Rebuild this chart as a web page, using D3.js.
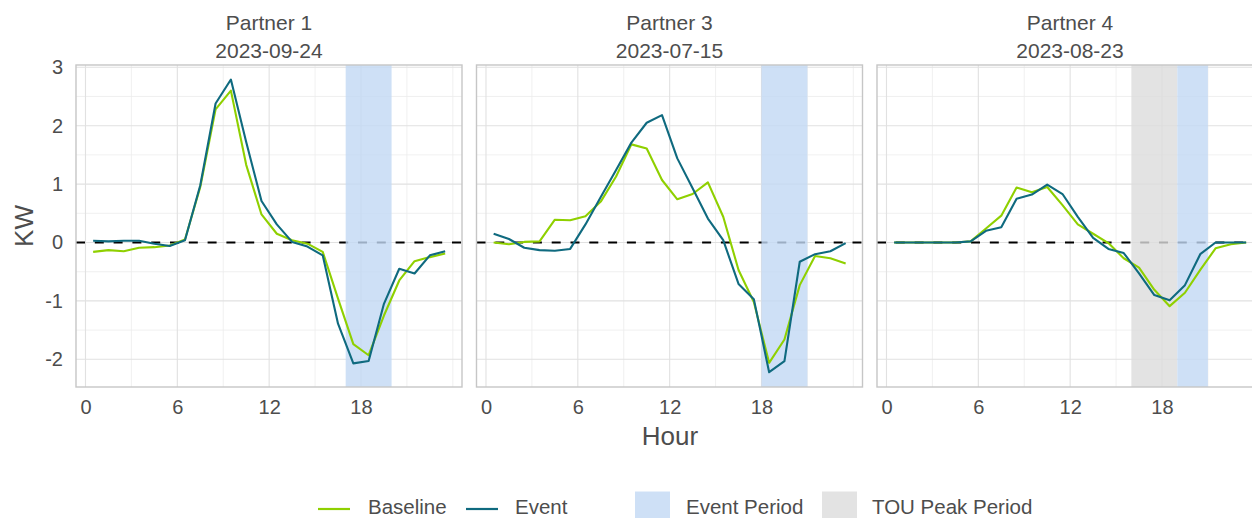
<!DOCTYPE html>
<html>
<head>
<meta charset="utf-8">
<script src="https://cdn.jsdelivr.net/npm/d3@7"></script>
<style>
  html, body { margin: 0; padding: 0; background: #ffffff; }
  svg { display: block; font-family: "Liberation Sans", Arial, sans-serif; }
</style>
</head>
<body>
<svg id="chart" width="1252" height="518"></svg>
<script>
// ---------------- data ----------------
const hours = [0.5, 1.5, 2.5, 3.5, 4.5, 5.5, 6.5, 7.5, 8.5, 9.5, 10.5, 11.5,
               12.5, 13.5, 14.5, 15.5, 16.5, 17.5, 18.5, 19.5, 20.5, 21.5, 22.5, 23.5];

const panelPartners = ["Partner 1", "Partner 3", "Partner 4"];
const panelDates = ["2023-09-24", "2023-07-15", "2023-08-23"];

const baselineP1 = [-0.16, -0.13, -0.15, -0.09, -0.08, -0.05, 0.05, 0.95, 2.28, 2.6, 1.33, 0.48,
                    0.15, 0.04, -0.02, -0.16, -0.96, -1.74, -1.93, -1.25, -0.65, -0.32, -0.25, -0.19];
const eventP1 = [0.03, 0.02, 0.03, 0.03, -0.02, -0.06, 0.04, 0.98, 2.38, 2.79, 1.72, 0.71,
                 0.31, 0.01, -0.07, -0.22, -1.39, -2.07, -2.03, -1.05, -0.45, -0.53, -0.22, -0.15];

const baselineP3 = [0.0, -0.03, 0.01, 0.02, 0.39, 0.38, 0.45, 0.70, 1.13, 1.68, 1.61, 1.07,
                    0.74, 0.83, 1.03, 0.44, -0.47, -1.02, -2.06, -1.66, -0.73, -0.23, -0.27, -0.36];
const eventP3 = [0.15, 0.06, -0.09, -0.13, -0.14, -0.11, 0.31, 0.78, 1.24, 1.71, 2.05, 2.18,
                 1.44, 0.93, 0.41, 0.04, -0.71, -0.97, -2.22, -2.03, -0.33, -0.2, -0.15, -0.01];

const baselineP4 = [0.0, 0.0, 0.0, 0.0, 0.0, 0.02, 0.24, 0.46, 0.94, 0.86, 0.95, 0.64,
                    0.31, 0.15, -0.01, -0.27, -0.43, -0.81, -1.09, -0.86, -0.47, -0.1, -0.03, 0.0];
const eventP4 = [0.0, 0.0, 0.0, 0.0, 0.0, 0.02, 0.2, 0.26, 0.75, 0.82, 0.99, 0.83,
                 0.44, 0.08, -0.11, -0.18, -0.53, -0.9, -0.99, -0.73, -0.2, 0.0, 0.0, 0.0];

const baselineSeries = [baselineP1, baselineP3, baselineP4];
const eventSeries = [eventP1, eventP3, eventP4];

const eventPeriods = [[17, 20], [18, 21], [19, 21]];
const touPeriods = [null, null, [16, 19]];

const xTicks = [0, 6, 12, 18];
const xMinor = [3, 9, 15, 21, 24];
const yTicks = [-2, -1, 0, 1, 2, 3];
const yMinor = [-1.5, -0.5, 0.5, 1.5, 2.5];

const legendLines = ["Baseline", "Event"];
const legendFills = ["Event Period", "TOU Peak Period"];

// ---------------- style ----------------
const colBaseline = "#8fd000";
const colEvent = "#0f6a7f";
const colEventFill = "#c2d8f4";
const colTouFill = "#dcdcdc";
const fillAlpha = 0.8;
const textCol = "#4d4d4d";

const panelW = 386, panelH = 322;
const panelLefts = [76, 476.5, 877];
const panelTop = 65;

const svg = d3.select("#chart");

const x = d3.scaleLinear().domain([-0.62, 24.6]).range([0, panelW]);
const y = d3.scaleLinear().domain([-2.474, 3.039]).range([panelH, 0]);

panelPartners.forEach((name, i) => {
  const g = svg.append("g").attr("transform", `translate(${panelLefts[i]},${panelTop})`);

  // minor grid
  g.selectAll(".xminor").data(xMinor).join("line")
    .attr("x1", d => x(d)).attr("x2", d => x(d)).attr("y1", 0).attr("y2", panelH)
    .attr("stroke", "#ececec").attr("stroke-width", 0.8);
  g.selectAll(".yminor").data(yMinor).join("line")
    .attr("x1", 0).attr("x2", panelW).attr("y1", d => y(d)).attr("y2", d => y(d))
    .attr("stroke", "#ececec").attr("stroke-width", 0.8);
  // major grid
  g.selectAll(".xmajor").data(xTicks).join("line")
    .attr("x1", d => x(d)).attr("x2", d => x(d)).attr("y1", 0).attr("y2", panelH)
    .attr("stroke", "#e1e1e1").attr("stroke-width", 1.1);
  g.selectAll(".ymajor").data(yTicks).join("line")
    .attr("x1", 0).attr("x2", panelW).attr("y1", d => y(d)).attr("y2", d => y(d))
    .attr("stroke", "#e1e1e1").attr("stroke-width", 1.1);

  // zero dashed line
  g.append("line")
    .attr("x1", 0).attr("x2", panelW).attr("y1", y(0)).attr("y2", y(0))
    .attr("stroke", "#000").attr("stroke-width", 2.2)
    .attr("stroke-dasharray", "9,9.8");

  // shaded periods
  if (touPeriods[i]) {
    const t = touPeriods[i];
    g.append("rect").attr("x", x(t[0])).attr("width", x(t[1]) - x(t[0]))
      .attr("y", 0).attr("height", panelH)
      .attr("fill", colTouFill).attr("fill-opacity", fillAlpha);
  }
  const e = eventPeriods[i];
  g.append("rect").attr("x", x(e[0])).attr("width", x(e[1]) - x(e[0]))
    .attr("y", 0).attr("height", panelH)
    .attr("fill", colEventFill).attr("fill-opacity", fillAlpha);

  // lines
  const line = d3.line().x((d, k) => x(hours[k])).y(d => y(d));
  g.append("path").datum(baselineSeries[i]).attr("d", line)
    .attr("fill", "none").attr("stroke", colBaseline).attr("stroke-width", 2.1)
    .attr("stroke-linejoin", "round");
  g.append("path").datum(eventSeries[i]).attr("d", line)
    .attr("fill", "none").attr("stroke", colEvent).attr("stroke-width", 2.1)
    .attr("stroke-linejoin", "round");

  // border
  g.append("rect").attr("x", 0).attr("y", 0).attr("width", panelW).attr("height", panelH)
    .attr("fill", "none").attr("stroke", "#c6c6c6").attr("stroke-width", 1.4);

  // x axis
  const xa = g.append("g").attr("transform", `translate(0,${panelH})`)
    .call(d3.axisBottom(x).tickValues(xTicks).tickSize(0).tickPadding(13));
  xa.select(".domain").remove();
  xa.selectAll("text").attr("fill", textCol).style("font-size", "20px")
    .style("font-family", "'Liberation Sans', Arial, sans-serif");

  // y axis on first panel
  if (i === 0) {
    const ya = g.append("g")
      .call(d3.axisLeft(y).tickValues(yTicks).tickFormat(d3.format("d")).tickSize(0).tickPadding(13));
    ya.select(".domain").remove();
    ya.selectAll("text").attr("fill", textCol).style("font-size", "20px")
      .style("font-family", "'Liberation Sans', Arial, sans-serif")
      .text(d => String(d));
  }

  // strip titles
  g.append("text").attr("x", panelW / 2).attr("y", 30 - panelTop)
    .attr("text-anchor", "middle").attr("fill", textCol).style("font-size", "21px")
    .text(name);
  g.append("text").attr("x", panelW / 2).attr("y", 57.5 - panelTop)
    .attr("text-anchor", "middle").attr("fill", textCol).style("font-size", "21px")
    .text(panelDates[i]);
});

// axis titles
svg.append("text").attr("x", 670).attr("y", 445).attr("text-anchor", "middle")
  .attr("fill", textCol).style("font-size", "26px").text("Hour");
svg.append("text").attr("transform", "translate(24,226) rotate(-90)")
  .attr("text-anchor", "middle").attr("dy", "0.36em")
  .attr("fill", textCol).style("font-size", "26px").text("KW");

// legend
const lg = svg.append("g");
const lineKeys = [{x: 318, col: colBaseline, tx: 368}, {x: 466, col: colEvent, tx: 515}];
legendLines.forEach((lab, k) => {
  lg.append("line").attr("x1", lineKeys[k].x).attr("x2", lineKeys[k].x + 32)
    .attr("y1", 509).attr("y2", 509).attr("stroke", lineKeys[k].col).attr("stroke-width", 2.2);
  lg.append("text").attr("x", lineKeys[k].tx).attr("y", 514).attr("fill", textCol)
    .style("font-size", "20.5px").text(lab);
});
const fillKeys = [{x: 635, col: colEventFill, tx: 686}, {x: 822, col: colTouFill, tx: 872}];
legendFills.forEach((lab, k) => {
  lg.append("rect").attr("x", fillKeys[k].x).attr("y", 491.5).attr("width", 35).attr("height", 35)
    .attr("fill", fillKeys[k].col).attr("fill-opacity", fillAlpha);
  lg.append("text").attr("x", fillKeys[k].tx).attr("y", 514).attr("fill", textCol)
    .style("font-size", "20.5px").text(lab);
});
</script>
</body>
</html>
